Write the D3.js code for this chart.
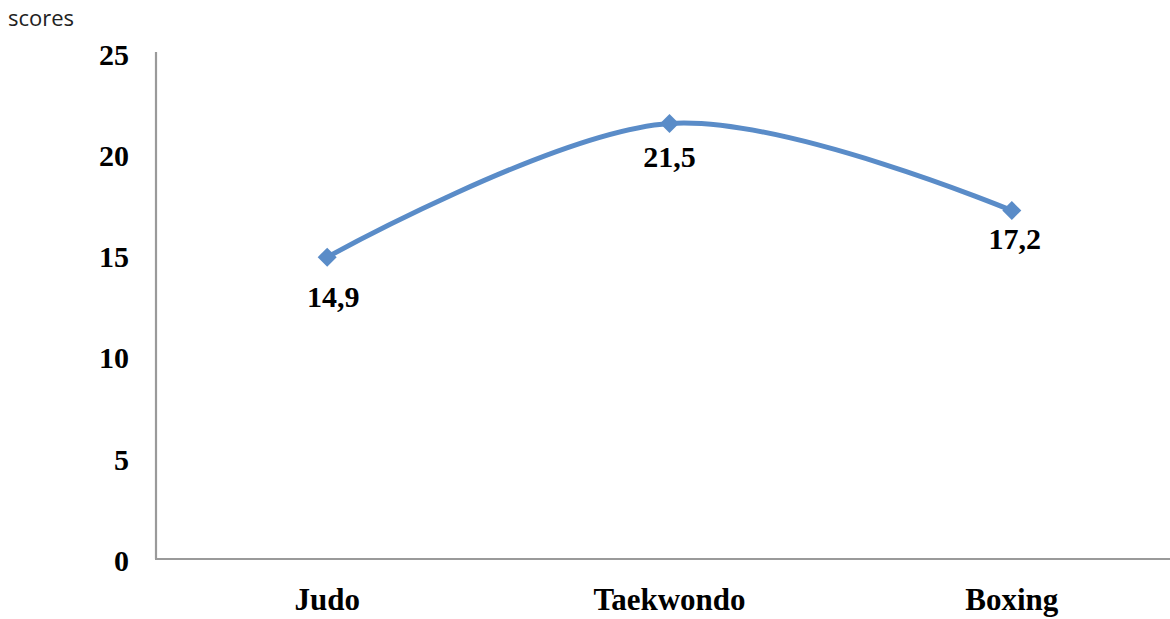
<!DOCTYPE html>
<html>
<head>
<meta charset="utf-8">
<script src="https://cdn.jsdelivr.net/npm/d3@7"></script>
<style>
  html, body { margin: 0; padding: 0; background: #fff; }
  svg { display: block; }
</style>
</head>
<body>
<svg id="chart" width="1170" height="619"></svg>
<script>
// Mean scores per combat sport
const categories = ["Judo", "Taekwondo", "Boxing"];
const scores = [14.9, 21.5, 17.2];
const valueLabels = ["14,9", "21,5", "17,2"];
const yTicks = [0, 5, 10, 15, 20, 25];

const width = 1170, height = 619;
const svg = d3.select("#chart");

const x = d3.scaleBand().domain(categories).range([156, 1183]);
const y = d3.scaleLinear().domain([0, 25]).range([559, 52.5]);
const cx = c => x(c) + x.bandwidth() / 2;

const serif = "'Liberation Serif', 'Times New Roman', serif";
const axisColor = "#9a9a9a";
const lineColor = "#5a8cc8";

// unit caption
svg.append("text")
  .attr("x", 8).attr("y", 26)
  .attr("font-family", "'Open Sans', sans-serif")
  .attr("font-size", 22)
  .attr("fill", "#222")
  .text("scores");

// axis lines
svg.append("line")
  .attr("x1", 156).attr("x2", 156)
  .attr("y1", y(25) - 0.5).attr("y2", y(0))
  .attr("stroke", axisColor).attr("stroke-width", 2.2);
svg.append("line")
  .attr("x1", 155).attr("x2", 1183)
  .attr("y1", y(0)).attr("y2", y(0))
  .attr("stroke", axisColor).attr("stroke-width", 2.2);

// y tick labels
svg.append("g").selectAll("text")
  .data(yTicks)
  .join("text")
  .attr("x", 129)
  .attr("y", d => y(d) + 12)
  .attr("text-anchor", "end")
  .attr("font-family", serif)
  .attr("font-weight", "bold")
  .attr("font-size", 30)
  .attr("fill", "#000")
  .text(d => d);

// category labels
svg.append("g").selectAll("text")
  .data(categories)
  .join("text")
  .attr("x", d => cx(d))
  .attr("y", 610)
  .attr("text-anchor", "middle")
  .attr("font-family", serif)
  .attr("font-weight", "bold")
  .attr("font-size", 31)
  .attr("fill", "#000")
  .text(d => d);

// smoothed series line
const pts = categories.map((c, i) => [cx(c), y(scores[i])]);
svg.append("path")
  .attr("d", d3.line().curve(d3.curveCardinal.tension(0))(pts))
  .attr("fill", "none")
  .attr("stroke", lineColor)
  .attr("stroke-width", 5)
  .attr("stroke-linecap", "round");

// diamond markers
const r = 9.5;
svg.append("g").selectAll("path")
  .data(pts)
  .join("path")
  .attr("transform", d => `translate(${d[0]},${d[1]})`)
  .attr("d", `M0,${-r}L${r},0L0,${r}L${-r},0Z`)
  .attr("fill", lineColor);

// value labels under each point
const labelDx = [6, 0, 3];
const labelDy = [50, 44, 38];
svg.append("g").selectAll("text")
  .data(pts)
  .join("text")
  .attr("x", (d, i) => d[0] + labelDx[i])
  .attr("y", (d, i) => d[1] + labelDy[i])
  .attr("text-anchor", "middle")
  .attr("font-family", serif)
  .attr("font-weight", "bold")
  .attr("font-size", 30)
  .attr("fill", "#000")
  .text((d, i) => valueLabels[i]);
</script>
</body>
</html>
